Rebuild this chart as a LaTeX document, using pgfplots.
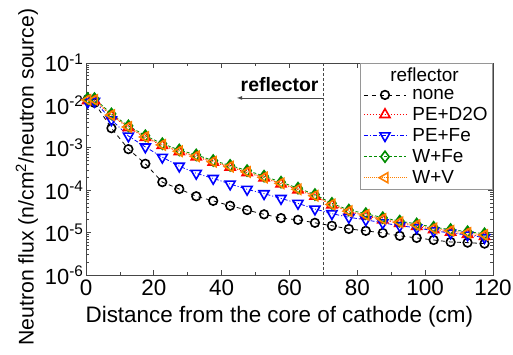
\documentclass[border=0pt]{standalone}
\usepackage{pgfplots}
\pgfplotsset{compat=1.18}
\usepackage{pgfplotstable}
\usepackage{fontspec}
\setmainfont{Liberation Sans}
\definecolor{axgray}{RGB}{70,70,70}
\definecolor{leggray}{RGB}{150,150,150}
\definecolor{mygreen}{RGB}{0,140,0}
\definecolor{myorange}{RGB}{255,128,0}

\pgfplotstableread{
x y
0.5 0.014
2.5 0.0115
7.5 0.0029
12.5 9.3e-4
17.5 4.2e-4
22.5 1.55e-4
27.5 1.07e-4
32.5 7.2e-5
37.5 5.6e-5
42.5 4.3e-5
47.5 3.4e-5
52.5 2.7e-5
57.5 2.2e-5
62.5 2.0e-5
67.5 1.7e-5
72.5 1.45e-5
77.5 1.22e-5
82.5 1.1e-5
87.5 9.8e-6
92.5 8.4e-6
97.5 7.5e-6
102.5 6.7e-6
107.5 6.0e-6
112.5 5.8e-6
117.5 5.5e-6
}\tnone

\pgfplotstableread{
x y
0.5 0.0130
2.5 0.0130
7.5 5.7e-3
12.5 3.0e-3
17.5 1.75e-3
22.5 1.14e-3
27.5 8.1e-4
32.5 6.1e-4
37.5 4.6e-4
42.5 3.5e-4
47.5 2.6e-4
52.5 1.95e-4
57.5 1.4e-4
62.5 1.02e-4
67.5 7.2e-5
72.5 4.5e-5
77.5 3.1e-5
82.5 2.5e-5
87.5 2.0e-5
92.5 1.65e-5
97.5 1.4e-5
102.5 1.17e-5
107.5 1.02e-5
112.5 9.1e-6
117.5 8.1e-6
}\tpedo

\pgfplotstableread{
x y
0.5 0.0120
2.5 0.0125
7.5 4.6e-3
12.5 1.9e-3
17.5 1.05e-3
22.5 6.0e-4
27.5 3.7e-4
32.5 2.5e-4
37.5 1.9e-4
42.5 1.4e-4
47.5 1.05e-4
52.5 8.3e-5
57.5 6.4e-5
62.5 4.9e-5
67.5 3.6e-5
72.5 2.8e-5
77.5 2.3e-5
82.5 2.0e-5
87.5 1.7e-5
92.5 1.45e-5
97.5 1.3e-5
102.5 1.1e-5
107.5 9.8e-6
112.5 8.8e-6
117.5 7.6e-6
}\tpefe

\pgfplotstableread{
x y
0.5 0.0145
2.5 0.0145
7.5 6.3e-3
12.5 3.3e-3
17.5 1.93e-3
22.5 1.25e-3
27.5 8.9e-4
32.5 6.8e-4
37.5 5.0e-4
42.5 3.85e-4
47.5 2.9e-4
52.5 2.15e-4
57.5 1.55e-4
62.5 1.12e-4
67.5 7.9e-5
72.5 4.9e-5
77.5 3.4e-5
82.5 2.8e-5
87.5 2.25e-5
92.5 1.87e-5
97.5 1.6e-5
102.5 1.34e-5
107.5 1.18e-5
112.5 1.05e-5
117.5 9.4e-6
}\twfe

\pgfplotstableread{
x y
0.5 0.0135
2.5 0.0135
7.5 5.9e-3
12.5 3.1e-3
17.5 1.8e-3
22.5 1.17e-3
27.5 8.3e-4
32.5 6.3e-4
37.5 4.7e-4
42.5 3.6e-4
47.5 2.7e-4
52.5 2.0e-4
57.5 1.45e-4
62.5 1.05e-4
67.5 7.4e-5
72.5 4.6e-5
77.5 3.2e-5
82.5 2.6e-5
87.5 2.1e-5
92.5 1.75e-5
97.5 1.5e-5
102.5 1.25e-5
107.5 1.1e-5
112.5 9.8e-6
117.5 8.8e-6
}\twv

\begin{document}
\begin{tikzpicture}
\begin{semilogyaxis}[
  at={(86bp,80bp)}, anchor=south west,
  scale only axis,
  width=407bp, height=212bp,
  xmin=0, xmax=120, ymin=1e-6, ymax=1e-1,
  xtick={0,20,...,120},
  minor xtick={10,30,...,110},
  ytick={1e-6,1e-5,1e-4,1e-3,1e-2,1e-1},
  yticklabels={10\textsuperscript{-6},10\textsuperscript{-5},10\textsuperscript{-4},10\textsuperscript{-3},10\textsuperscript{-2},10\textsuperscript{-1}},
  tick align=inside,
  major tick length=5bp, minor tick length=3bp,
  axis line style={axgray, line width=1pt},
  every tick/.style={axgray, line width=0.8pt},
  tick label style={black},
  xticklabel style={font=\fontsize{22.5}{26}\selectfont, yshift=-1bp},
  yticklabel style={font=\fontsize{22}{26}\selectfont, xshift=1bp},
  xticklabel={\pgfmathprintnumber[assume math mode=true]{\tick}},
  xlabel={Distance from the core of cathode (cm)},
  ylabel={Neutron flux (n/cm\textsuperscript{2}/neutron source)},
  xlabel style={font=\fontsize{22.5}{26}\selectfont, at={(axis description cs:0.475,-0.226)}, anchor=base},
  ylabel style={font=\fontsize{21.3}{25}\selectfont, at={(axis description cs:-0.145,0.462)}, anchor=center, rotate=0},
  legend style={at={(1,1)}, anchor=north east, draw=leggray, line width=0.8pt,
    font=\fontsize{19}{22}\selectfont, inner xsep=3bp, inner ysep=2bp,
    row sep=2.5bp, fill=white,
    /tikz/every odd column/.append style={column sep=4bp}},
  legend cell align=left,
  legend image code/.code={\draw[mark repeat=2,mark phase=2] plot coordinates {(0bp,0bp)(21bp,0bp)(42bp,0bp)};},
  clip=false,
]
\draw[axgray, densely dashed, line width=1pt] (axis cs:70,1e-6) -- (axis cs:70,1e-1);
\draw[axgray, -latex, line width=0.8pt] (axis cs:70,0.0150) -- (axis cs:44.5,0.0150);
\node[anchor=east, font=\bfseries\fontsize{19.5}{23}\selectfont, inner sep=0pt] at (axis cs:68.6,0.031) {reflector};

\addlegendimage{empty legend}
\addlegendentry{\hspace*{-22bp}reflector}

\addplot[black, line width=0.8pt, dash pattern=on 4pt off 4pt, mark=o, mark size=4.3bp,
  mark options={solid, line width=1.6pt}] table[x=x,y=y]{\tnone};
\addlegendentry{none}
\addplot[red, line width=0.8pt, dash pattern=on 1pt off 2pt, mark=triangle, mark size=5.8bp,
  mark options={solid, line width=1.6pt}] table[x=x,y=y]{\tpedo};
\addlegendentry{PE+D2O}
\addplot[blue, line width=0.8pt, dash pattern=on 4pt off 2pt on 1pt off 2pt, mark=triangle, mark size=5.8bp,
  mark options={solid, line width=1.6pt, rotate=180}] table[x=x,y=y]{\tpefe};
\addlegendentry{PE+Fe}
\addplot[mygreen, line width=0.8pt, dash pattern=on 3pt off 2pt, mark=diamond, mark size=5.5bp,
  mark options={solid, line width=1.6pt}] table[x=x,y=y]{\twfe};
\addlegendentry{W+Fe}
\addplot[myorange, line width=0.8pt, dash pattern=on 1pt off 1pt, mark=triangle, mark size=5.8bp,
  mark options={solid, line width=1.6pt, rotate=90}] table[x=x,y=y]{\twv};
\addlegendentry{W+V}
\end{semilogyaxis}
\pgfresetboundingbox
\useasboundingbox (0,0) rectangle (513bp,355bp);
\end{tikzpicture}
\end{document}
